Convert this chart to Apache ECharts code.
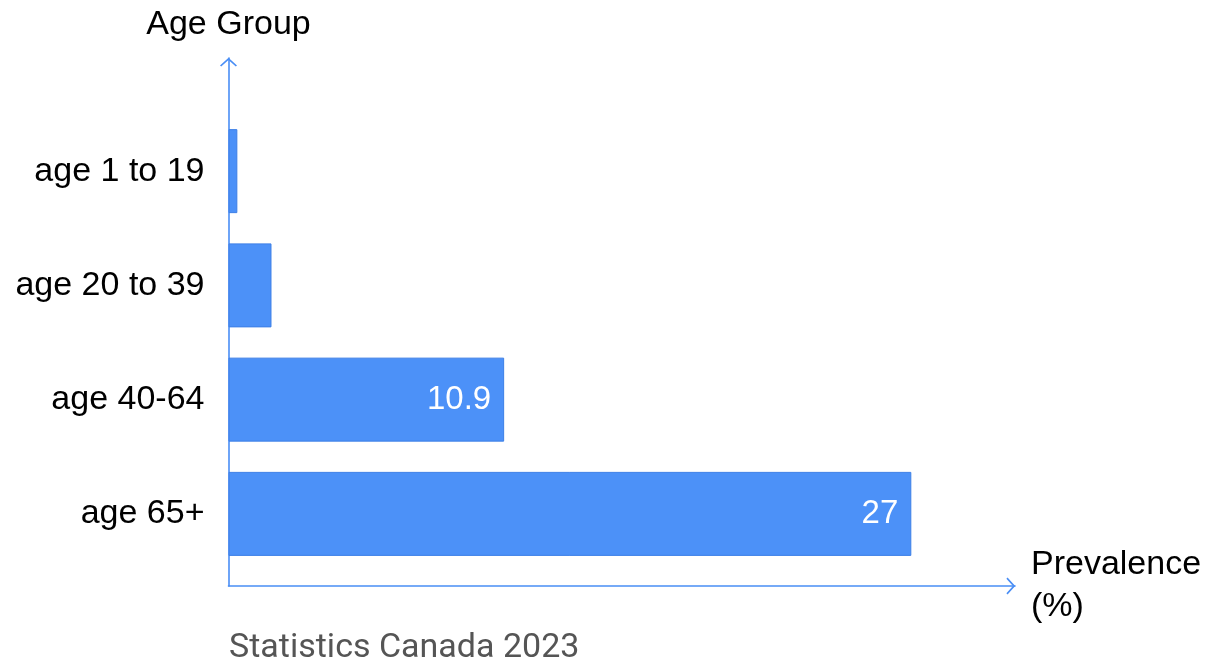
<!DOCTYPE html>
<html>
<head>
<meta charset="utf-8">
<script src="https://cdn.jsdelivr.net/npm/echarts@6/dist/echarts.min.js"></script>
<style>
html,body{margin:0;padding:0;background:#fff;}
#c{width:1210px;height:664px;}
</style>
</head>
<body>
<div id="c"></div>
<script>
// ---- data ----
const categories = ['age 1 to 19', 'age 20 to 39', 'age 40-64', 'age 65+'];
const prevalence = [0.35, 1.7, 10.9, 27];
const labelThreshold = 5;
const xName = 'Prevalence\n(%)';
const yName = 'Age Group';
const sourceText = 'Statistics Canada 2023';

// ---- styling ----
const axisColor = '#4a8ef5';
const barColor = '#4c91f8';
const font = '"Liberation Sans", Arial, sans-serif';
const chevron = 'path://M0,9 L10,0 L20,9 L18.6,10.4 L10,2.7 L1.4,10.4 Z';
const xMax = 31.1;

const chart = echarts.init(document.getElementById('c'));
chart.setOption({
  animation: false,
  backgroundColor: '#fff',
  title: {
    text: sourceText,
    left: 229,
    top: 631,
    padding: 0,
    textStyle: { fontFamily: 'Roboto', fontSize: 34, fontWeight: 'normal', color: '#555' }
  },
  grid: [
    { left: 228.5, right: 195, top: 114, bottom: 93 },
    { left: 228.5, right: 195, top: 58, bottom: 78 }
  ],
  xAxis: [
    { gridIndex: 0, type: 'value', min: 0, max: xMax, show: false },
    {
      gridIndex: 1, type: 'value', min: 0, max: xMax,
      name: xName, nameLocation: 'end', nameGap: 16,
      nameTextStyle: { fontFamily: font, fontSize: 34, lineHeight: 42, color: '#000' },
      axisLabel: { show: false }, axisTick: { show: false }, splitLine: { show: false },
      axisLine: {
        show: true,
        lineStyle: { color: axisColor, width: 1.6 },
        symbol: ['none', chevron], symbolSize: [17, 9], symbolOffset: [0, -4.2]
      }
    }
  ],
  yAxis: [
    {
      gridIndex: 0, type: 'category', data: categories, inverse: true,
      axisLine: { show: false }, axisTick: { show: false },
      axisLabel: { margin: 24, fontFamily: font, fontSize: 34, color: '#000' }
    },
    {
      gridIndex: 1, type: 'value', min: 0, max: 1,
      name: yName, nameLocation: 'end', nameGap: 16,
      nameTextStyle: { fontFamily: font, fontSize: 34, color: '#000', align: 'center' },
      axisLabel: { show: false }, axisTick: { show: false }, splitLine: { show: false },
      axisLine: {
        show: true,
        lineStyle: { color: axisColor, width: 1.6 },
        symbol: ['none', chevron], symbolSize: [17, 9], symbolOffset: [0, -4.2]
      }
    }
  ],
  series: [{
    type: 'bar',
    xAxisIndex: 0, yAxisIndex: 0,
    data: prevalence,
    barWidth: 84,
    itemStyle: { color: barColor, borderColor: '#3d7fe6', borderWidth: 1 },
    label: {
      show: true, position: 'insideRight', distance: 13,
      color: '#fff', fontFamily: font, fontSize: 33,
      formatter: p => (p.value >= labelThreshold ? String(p.value) : '')
    }
  }]
});
</script>
</body>
</html>
